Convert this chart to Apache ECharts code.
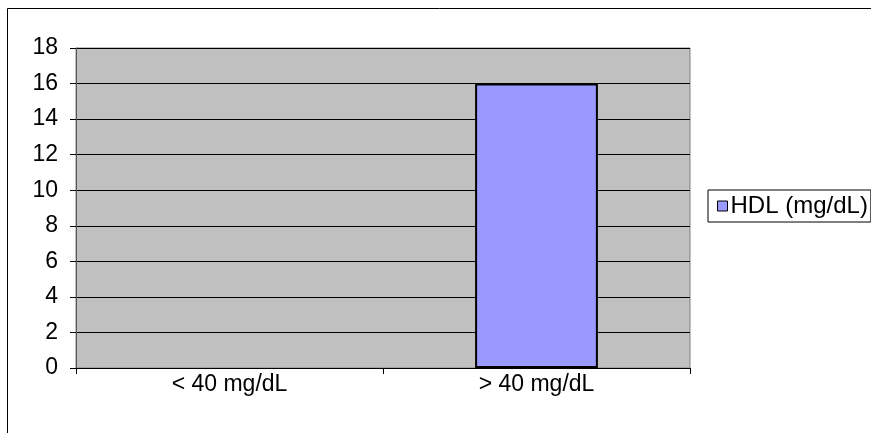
<!DOCTYPE html>
<html>
<head>
<meta charset="utf-8">
<script src="https://cdn.jsdelivr.net/npm/echarts@6/dist/echarts.min.js"></script>
<style>html,body{margin:0;padding:0;background:#fff;}#c{width:871px;height:433px;}</style>
</head>
<body>
<div id="c"></div>
<script>
const categories = ['< 40 mg/dL', '> 40 mg/dL'];
const hdlValues = [0, 16];
const seriesName = 'HDL (mg/dL)';
const yMin = 0, yMax = 18, yStep = 2;

const chart = echarts.init(document.getElementById('c'), null, {renderer: 'canvas'});
const font = 'Liberation Sans, Arial, sans-serif';
chart.setOption({
  animation: false,
  backgroundColor: '#fff',
  graphic: [{
    type: 'rect', silent: true, z: 100,
    shape: {x: 7.5, y: 8.5, width: 900, height: 500},
    style: {fill: 'none', stroke: '#000', lineWidth: 1}
  }],
  grid: {
    left: 76, top: 48, right: 181, bottom: 65,
    show: true, backgroundColor: '#C0C0C0', borderColor: '#808080', borderWidth: 1
  },
  legend: {
    show: true,
    left: 708, top: 190,
    orient: 'vertical',
    borderColor: '#000', borderWidth: 1,
    padding: [4, 3, 4, 9],
    itemWidth: 10, itemHeight: 10, itemGap: 5,
    icon: 'rect',
    itemStyle: {borderColor: '#000', borderWidth: 1},
    textStyle: {fontFamily: font, fontSize: 24, color: '#000', padding: [0, 0, 0, -2]},
    data: [seriesName]
  },
  xAxis: {
    type: 'category',
    data: categories,
    axisLine: {show: true, lineStyle: {color: '#000', width: 1}},
    axisTick: {show: true, length: 6, alignWithLabel: false, lineStyle: {color: '#000'}},
    axisLabel: {fontFamily: font, fontSize: 23, color: '#000', margin: 5},
    splitLine: {show: false}
  },
  yAxis: {
    type: 'value',
    min: yMin, max: yMax, interval: yStep,
    axisLine: {show: true, lineStyle: {color: '#555', width: 1}},
    axisTick: {show: true, length: 6, lineStyle: {color: '#000'}},
    axisLabel: {fontFamily: font, fontSize: 23, color: '#000', margin: 18},
    splitLine: {show: true, lineStyle: {color: '#000', width: 1}}
  },
  series: [{
    name: seriesName,
    type: 'bar',
    data: hdlValues.map(v => v === 0 ? {value: v, itemStyle: {borderWidth: 0}} : v),
    barWidth: '40%',
    itemStyle: {color: '#9999FF', borderColor: '#000', borderWidth: 2}
  }]
});
</script>
</body>
</html>
